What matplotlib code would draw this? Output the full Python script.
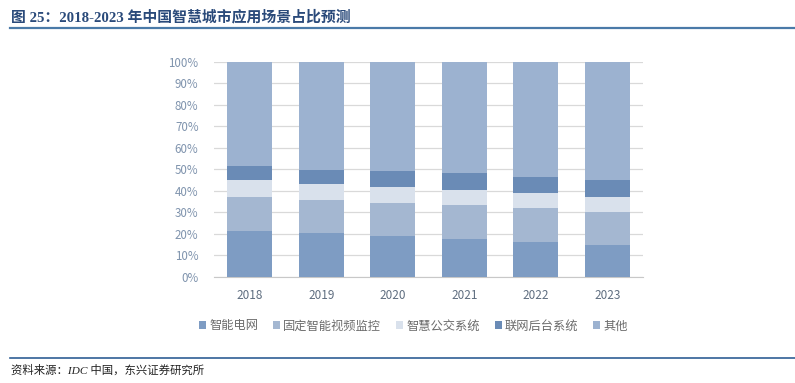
import numpy as np
import matplotlib
matplotlib.use('Agg')
import matplotlib.pyplot as plt
import matplotlib.ticker as mticker
from matplotlib.patches import Patch
from matplotlib.lines import Line2D

plt.rcParams['font.family'] = ['Noto Sans CJK SC', 'DejaVu Sans']

# ---- dados ----
years = ['2018', '2019', '2020', '2021', '2022', '2023']
series_names = ['智能电网', '固定智能视频监控', '智慧公交系统', '联网后台系统', '其他']
smart_grid = [21.2, 20.2, 18.9, 17.5, 16.3, 15.0]
video_monitor = [15.7, 15.5, 15.5, 15.7, 15.5, 15.2]
smart_bus = [8.1, 7.4, 7.5, 7.4, 7.0, 7.0]
backend = [6.6, 6.8, 7.2, 7.5, 7.7, 7.8]
others = [48.4, 50.1, 50.9, 51.9, 53.5, 55.0]
yticks = [0, 10, 20, 30, 40, 50, 60, 70, 80, 90, 100]

title = '图 25：2018-2023 年中国智慧城市应用场景占比预测'
source = '资料来源：IDC 中国，东兴证券研究所'

colors = ['#7e9cc3', '#a4b7d1', '#d9e1ec', '#6a8bb6', '#9cb2d0']

fig = plt.figure(figsize=(7.95, 3.83), dpi=100)
ax = fig.add_axes([0.269, 0.277, 0.540, 0.562])

x = np.arange(len(years))
bottom = np.zeros(len(years))
for name, vals, col in zip(series_names,
                           [smart_grid, video_monitor, smart_bus, backend, others],
                           colors):
    ax.bar(x, vals, bottom=bottom, width=0.63, color=col, zorder=3, label=name)
    bottom += np.array(vals)

ax.set_xlim(-0.5, len(years) - 0.5)
ax.set_ylim(0, 100)
ax.set_yticks(yticks)
ax.yaxis.set_major_formatter(mticker.FuncFormatter(lambda v, p: f'{v:.0f}%'))
ax.set_xticks(x)
ax.set_xticklabels(years)
ax.grid(axis='y', color='#d9d9d9', linewidth=0.9, zorder=0)
for s in ['top', 'right', 'left']:
    ax.spines[s].set_visible(False)
ax.spines['bottom'].set_color('#c8c8c8')
ax.tick_params(axis='both', length=0)
ax.tick_params(axis='y', labelsize=8.3, labelcolor='#7f93ad', pad=11)
ax.tick_params(axis='x', labelsize=8.5, labelcolor='#5f6e80', pad=9)

handles = [Patch(facecolor=c, edgecolor='none') for c in colors]
fig.legend(handles, series_names, loc='center', bbox_to_anchor=(0.52, 0.149),
           ncol=5, frameon=False, fontsize=8.8, labelcolor='#6b6b6b',
           handlelength=0.6, handleheight=0.6, handletextpad=0.25,
           columnspacing=1.2)

# titulo e linhas
fig.text(0.014, 0.955, title, fontsize=10.7, fontweight='bold', color='#2a4a7a',
         va='center', ha='left', family=['Liberation Serif', 'Noto Sans CJK SC'])
fig.add_artist(Line2D([0.012, 1.0], [0.927, 0.927], color='#4a7aa8', lw=1.6))
fig.add_artist(Line2D([0.012, 1.0], [0.066, 0.066], color='#2f5f95', lw=1.2))
fig.text(0.014, 0.035, source, fontsize=8.2, style='italic', color='#222222',
         va='center', ha='left', family=['Liberation Serif', 'Noto Sans CJK SC'])

fig.savefig('out.png', dpi=100)
